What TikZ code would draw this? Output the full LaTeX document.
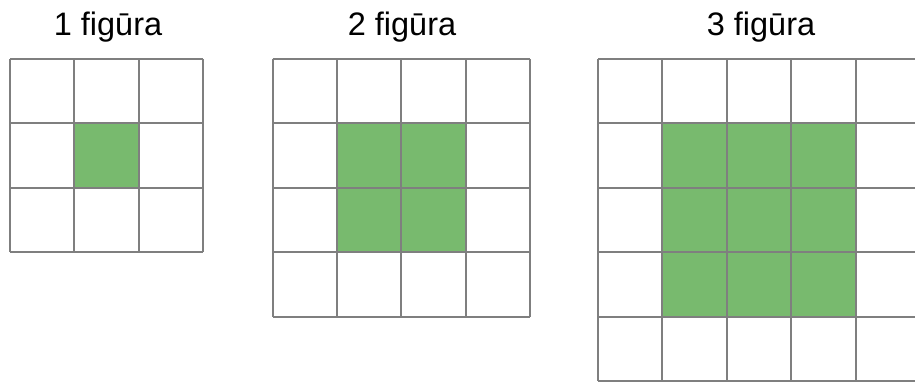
\documentclass[tikz,border=0pt]{standalone}
\usepackage{fontspec}
\setmainfont{Liberation Sans}
\definecolor{cellgreen}{HTML}{78BA6E}
\definecolor{gridgray}{HTML}{7F7F7F}
\tikzset{
  gridline/.style={draw=gridgray, line width=2pt},
  greencell/.style={fill=cellgreen},
  label/.style={font=\fontsize{32.5}{38}\selectfont, anchor=base, inner sep=0pt}
}
\begin{document}
\begin{tikzpicture}[x=1pt,y=-1pt]
\useasboundingbox (0,0) rectangle (915,381);
\clip (0,0) rectangle (915,381);
\fill[white] (0,0) rectangle (915,381);
% figure 1
\def\c{64.4}
\fill[greencell] (10+\c,59+\c) rectangle (10+2*\c,59+2*\c);
\foreach \i in {0,...,3} {
  \draw[gridline] (10+\i*\c,59) -- (10+\i*\c,59+3*\c);
  \draw[gridline] (10,59+\i*\c) -- (10+3*\c,59+\i*\c);
}
\node[label] (l1) at (108,35) {1 figūra};
% figure 2
\fill[greencell] (272.5+\c,59+\c) rectangle (272.5+3*\c,59+3*\c);
\foreach \i in {0,...,4} {
  \draw[gridline] (272.5+\i*\c,59) -- (272.5+\i*\c,59+4*\c);
  \draw[gridline] (272.5,59+\i*\c) -- (272.5+4*\c,59+\i*\c);
}
\node[label] (l2) at (402,35) {2 figūra};
% figure 3
\fill[greencell] (598+\c,59+\c) rectangle (598+4*\c,59+4*\c);
\foreach \i in {0,...,5} {
  \draw[gridline] (598+\i*\c,59) -- (598+\i*\c,59+5*\c);
  \draw[gridline] (598,59+\i*\c) -- (598+5*\c,59+\i*\c);
}
\node[label] (l3) at (761,35) {3 figūra};
\end{tikzpicture}
\end{document}
